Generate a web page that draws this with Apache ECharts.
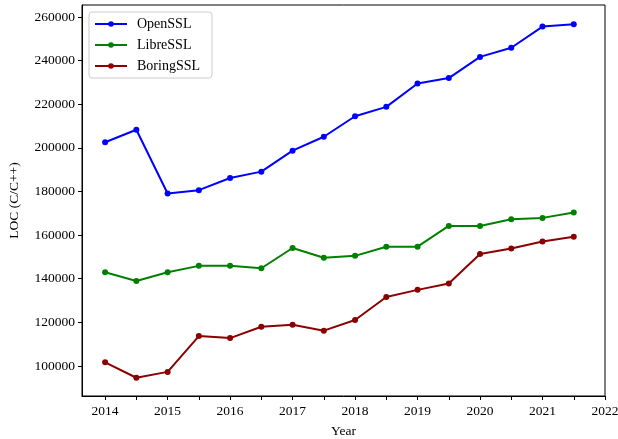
<!DOCTYPE html>
<html>
<head>
<meta charset="utf-8">
<style>
	html,body{margin:0;padding:0;background:#fff}
	#chart{width:618px;height:439px}
</style>
</head>
<body>
<div id="chart"></div>
<script src="https://cdn.jsdelivr.net/npm/echarts@6/dist/echarts.min.js"></script>
<script>
	var years = [2014, 2014.5, 2015, 2015.5, 2016, 2016.5, 2017, 2017.5, 2018, 2018.5, 2019, 2019.5, 2020, 2020.5, 2021, 2021.5];
	var openssl = [202600, 208300, 179100, 180600, 186200, 189100, 198700, 205100, 214500, 218800, 229500, 232000, 241700, 245900, 255600, 256700];
	var libressl = [143000, 139000, 143000, 145900, 145900, 144800, 154100, 149600, 150500, 154700, 154700, 164200, 164200, 167300, 167900, 170400];
	var boringssl = [101700, 94600, 97300, 113700, 112800, 118000, 118900, 116200, 121100, 131600, 134900, 137800, 151300, 153900, 157100, 159200];
	var xTicks = [2014, 2014.5, 2015, 2015.5, 2016, 2016.5, 2017, 2017.5, 2018, 2018.5, 2019, 2019.5, 2020, 2020.5, 2021, 2021.5, 2022];
	var xLabels = [2014, 2015, 2016, 2017, 2018, 2019, 2020, 2021, 2022];
	var yTicks = [100000, 120000, 140000, 160000, 180000, 200000, 220000, 240000, 260000];

	function pairs(vals) {
		return years.map(function (y, i) { return [y, vals[i]]; });
	}

	var font = "'Liberation Serif', 'DejaVu Serif', serif";
	var myChart = echarts.init(document.getElementById('chart'));
	var option = {
		animation: false,
		textStyle: {fontFamily: font},
		grid: {
			left: 82, right: 13, top: 5, bottom: 43,
			outerBoundsMode: 'none',
			containLabel: false,
			show: true, borderColor: '#000', borderWidth: 1
		},
		legend: {
			orient: 'vertical',
			left: 89, top: 12,
			padding: [5, 12, 5, 5],
			itemGap: 7,
			itemWidth: 32,
			itemHeight: 7,
			backgroundColor: '#fff',
			borderColor: '#ccc',
			borderWidth: 1,
			borderRadius: 3,
			textStyle: {fontFamily: font, fontSize: 14, color: '#000', padding: [0, 0, 0, 5]},
			data: ['OpenSSL', 'LibreSSL', 'BoringSSL']
		},
		xAxis: {
			type: 'value',
			min: 2013.63,
			max: 2022,
			name: 'Year',
			nameLocation: 'middle',
			nameGap: 28,
			nameTextStyle: {fontFamily: font, fontSize: 13.5, color: '#000'},
			splitLine: {show: false},
			axisLine: {lineStyle: {color: '#000'}},
			axisTick: {show: true, length: 4, lineStyle: {color: '#000'}, customValues: xTicks},
			axisLabel: {color: '#000', fontSize: 13.5, fontFamily: font, margin: 8, customValues: xLabels,
				formatter: function (v) { return String(v); }}
		},
		yAxis: {
			type: 'value',
			min: 86240,
			max: 265500,
			name: 'LOC (C/C++)',
			nameLocation: 'middle',
			nameGap: 61,
			nameTextStyle: {fontFamily: font, fontSize: 13.5, color: '#000'},
			splitLine: {show: false},
			axisLine: {show: true, lineStyle: {color: '#000'}},
			axisTick: {show: true, length: 4, lineStyle: {color: '#000'}, customValues: yTicks},
			axisLabel: {color: '#000', fontSize: 13.5, fontFamily: font, margin: 7, customValues: yTicks,
				formatter: function (v) { return String(v); }}
		},
		series: [
			{name: 'OpenSSL', type: 'line', data: pairs(openssl), color: '#0000ff',
				symbol: 'circle', symbolSize: 6, lineStyle: {width: 2}},
			{name: 'LibreSSL', type: 'line', data: pairs(libressl), color: '#008000',
				symbol: 'circle', symbolSize: 6, lineStyle: {width: 2}},
			{name: 'BoringSSL', type: 'line', data: pairs(boringssl), color: '#8b0000',
				symbol: 'circle', symbolSize: 6, lineStyle: {width: 2}}
		]
	};
	myChart.setOption(option);
</script>
</body>
</html>
